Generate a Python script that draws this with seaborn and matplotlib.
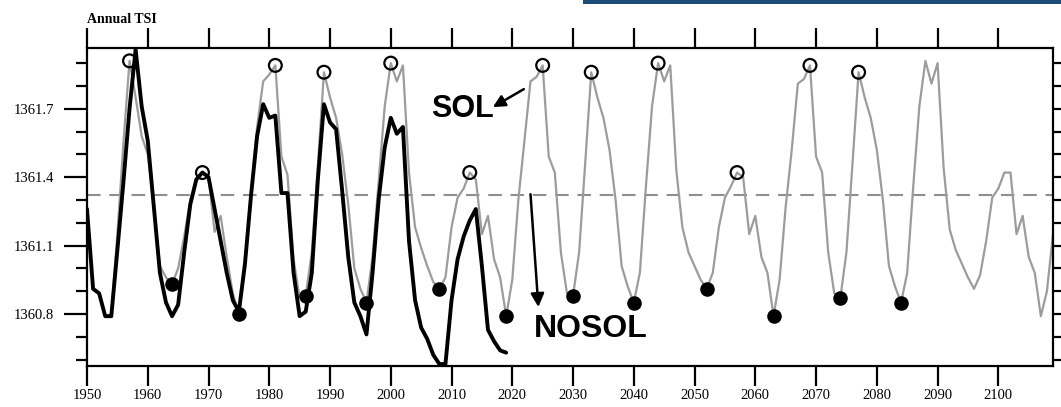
import numpy as np
import pandas as pd
import matplotlib
matplotlib.use("Agg")
import matplotlib.pyplot as plt
from matplotlib.patches import Rectangle
from matplotlib.ticker import MultipleLocator
import seaborn as sns

# Annual total solar irradiance (W m-2)
first_year = 1950
sol_tsi = [
    1361.26, 1360.91, 1360.89, 1360.79, 1360.80, 1361.15, 1361.55, 1361.91, 1361.75, 1361.58,  # 1950s
    1361.50, 1361.27, 1361.01, 1360.96, 1360.93, 1361.00, 1361.14, 1361.30, 1361.39, 1361.42,  # 1960s
    1361.40, 1361.16, 1361.23, 1361.05, 1360.89, 1360.80, 1361.00, 1361.34, 1361.62, 1361.82,  # 1970s
    1361.85, 1361.89, 1361.49, 1361.41, 1361.04, 1360.87, 1360.88, 1361.07, 1361.45, 1361.86,  # 1980s
    1361.75, 1361.66, 1361.50, 1361.28, 1361.00, 1360.91, 1360.85, 1361.05, 1361.38, 1361.71,  # 1990s
    1361.90, 1361.82, 1361.89, 1361.42, 1361.18, 1361.09, 1361.01, 1360.94, 1360.91, 1360.96,  # 2000s
    1361.18, 1361.31, 1361.35, 1361.42, 1361.39, 1361.15, 1361.23, 1361.04, 1360.96, 1360.79,  # 2010s
    1360.95, 1361.30, 1361.56, 1361.82, 1361.84, 1361.89, 1361.49, 1361.42, 1361.07, 1360.89,  # 2020s
    1360.88, 1361.07, 1361.46, 1361.86, 1361.75, 1361.66, 1361.52, 1361.30, 1361.01, 1360.92,  # 2030s
    1360.85, 1360.98, 1361.36, 1361.71, 1361.90, 1361.82, 1361.89, 1361.43, 1361.18, 1361.07,  # 2040s
    1361.01, 1360.95, 1360.91, 1360.98, 1361.18, 1361.31, 1361.36, 1361.42, 1361.40, 1361.15,  # 2050s
    1361.23, 1361.05, 1360.98, 1360.79, 1360.95, 1361.27, 1361.52, 1361.81, 1361.83, 1361.89,  # 2060s
    1361.49, 1361.42, 1361.07, 1360.89, 1360.87, 1361.07, 1361.46, 1361.86, 1361.75, 1361.66,  # 2070s
    1361.52, 1361.30, 1361.01, 1360.92, 1360.85, 1360.98, 1361.36, 1361.71, 1361.91, 1361.81,  # 2080s
    1361.90, 1361.44, 1361.17, 1361.08, 1361.02, 1360.96, 1360.91, 1360.97, 1361.12, 1361.31,  # 2090s
    1361.35, 1361.42, 1361.42, 1361.15, 1361.23, 1361.05, 1360.98, 1360.79, 1360.90, 1361.15,  # 2100s
]
nosol_tsi = [
    1361.26, 1360.91, 1360.89, 1360.79, 1360.79, 1361.08, 1361.38, 1361.70, 1361.96, 1361.71,  # 1950s
    1361.56, 1361.27, 1360.98, 1360.85, 1360.79, 1360.84, 1361.07, 1361.28, 1361.39, 1361.42,  # 1960s
    1361.40, 1361.26, 1361.12, 1360.98, 1360.86, 1360.81, 1361.02, 1361.32, 1361.58, 1361.72,  # 1970s
    1361.66, 1361.67, 1361.33, 1361.33, 1360.98, 1360.79, 1360.81, 1360.98, 1361.39, 1361.72,  # 1980s
    1361.64, 1361.61, 1361.34, 1361.05, 1360.85, 1360.79, 1360.71, 1360.98, 1361.30, 1361.53,  # 1990s
    1361.66, 1361.59, 1361.62, 1361.12, 1360.86, 1360.74, 1360.69, 1360.62, 1360.58, 1360.58,  # 2000s
    1360.86, 1361.04, 1361.14, 1361.21, 1361.26, 1361.01, 1360.73, 1360.68, 1360.64, 1360.63,  # 2010s
]
cycle_max_years = [1957, 1969, 1981, 1989, 2000, 2013, 2025, 2033, 2044, 2057, 2069, 2077]
cycle_min_years = [1964, 1975, 1986, 1996, 2008, 2019, 2030, 2040, 2052, 2063, 2074, 2084]
mean_tsi = 1361.32

x_ticks = list(range(1950, 2101, 10))
y_ticks = [1360.8, 1361.1, 1361.4, 1361.7]
y_tick_labels = ["1360.8", "1361.1", "1361.4", "1361.7"]

sns.set_theme(style="white")
plt.rcParams["font.family"] = ["Liberation Serif", "DejaVu Serif"]

sol = pd.DataFrame({"year": np.arange(first_year, first_year + len(sol_tsi)), "tsi": sol_tsi})
nosol = pd.DataFrame({"year": np.arange(first_year, first_year + len(nosol_tsi)), "tsi": nosol_tsi})
peaks = sol[sol["year"].isin(cycle_max_years)]
troughs = sol[sol["year"].isin(cycle_min_years)]

W, H = 1061, 407
fig = plt.figure(figsize=(W / 100, H / 100), dpi=100)
ax = fig.add_axes([87 / W, 1 - 366 / H, (1053 - 87) / W, (366 - 48.3) / H])

ax.axhline(mean_tsi, color="#8e8e8e", lw=1.5, dashes=(6.5, 4.2), zorder=1)
sns.lineplot(data=sol, x="year", y="tsi", ax=ax, color="#9c9c9c", lw=1.6, zorder=2)
sns.lineplot(data=nosol, x="year", y="tsi", ax=ax, color="black", lw=2.8, zorder=3)
sns.scatterplot(data=peaks, x="year", y="tsi", ax=ax, marker="o", s=85,
                facecolor="none", edgecolor="black", linewidth=1.6, zorder=5)
sns.scatterplot(data=troughs, x="year", y="tsi", ax=ax, marker="o", s=110,
                color="black", edgecolor="black", linewidth=0, zorder=5)

ax.set_xlim(1950, 2109)
ax.set_ylim(1360.5715, 1361.965)
ax.set_xticks(x_ticks)
ax.set_xticklabels([str(t) for t in x_ticks])
ax.set_yticks(y_ticks)
ax.set_yticklabels(y_tick_labels)
ax.yaxis.set_minor_locator(MultipleLocator(0.1))
ax.set_xlabel("")
ax.set_ylabel("")

for side in ax.spines.values():
    side.set_visible(True)
    side.set_color("black")
    side.set_linewidth(1.6)

ax.tick_params(axis="x", which="major", direction="out", length=14.5, width=1.6,
               top=True, bottom=True, labeltop=False, pad=2, labelsize=10.5, colors="black")
ax.tick_params(axis="y", which="major", direction="out", length=16.5, width=1.6,
               left=True, right=True, labelright=False, pad=7, labelsize=10.5, colors="black")
ax.tick_params(axis="y", which="minor", direction="out", length=8, width=1.6,
               left=True, right=True, colors="black")

# Labels for the two experiments
ax.text(2006.6, 1361.664, "SOL", ha="left", va="baseline", fontsize=22,
        fontweight="bold", family="Liberation Sans", color="black", zorder=6)
ax.annotate("", xy=(2016.8, 1361.707), xytext=(2021.9, 1361.786),
            arrowprops=dict(arrowstyle="-|>", color="black", lw=1.8, mutation_scale=18,
                            shrinkA=0, shrinkB=0), zorder=6)
ax.text(2023.5, 1360.699, "NOSOL", ha="left", va="baseline", fontsize=23,
        fontweight="bold", family="Liberation Sans", color="black", zorder=6)
ax.annotate("", xy=(2024.3, 1360.83), xytext=(2023.0, 1361.325),
            arrowprops=dict(arrowstyle="-|>", color="black", lw=1.8, mutation_scale=20,
                            shrinkA=0, shrinkB=0), zorder=6)

fig.text(87 / W, 1 - 23 / H, "Annual TSI", ha="left", va="baseline",
         fontsize=10, fontweight="bold", color="black")

# Header band along the top right edge
fig.patches.append(Rectangle((583 / W, 1 - 4 / H), (W - 583) / W, 4 / H,
                             transform=fig.transFigure, facecolor="#1d4a76",
                             edgecolor="none", zorder=10))

fig.savefig("out.png", dpi=100)
